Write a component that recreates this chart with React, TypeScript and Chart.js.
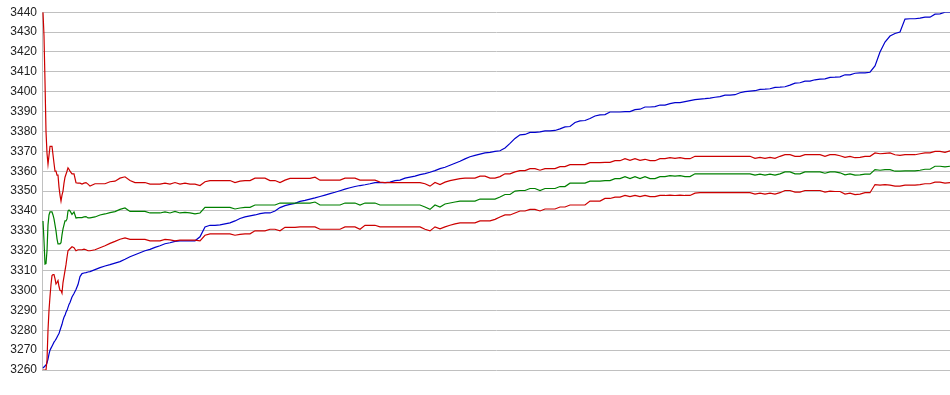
import React, { useEffect, useRef } from "react";
import { Chart, registerables } from "chart.js";

Chart.register(...registerables);

// sample positions (index along the series)
const sampleX = [
  1, 2, 3, 4, 5, 6, 7, 8, 9, 10, 11, 12, 13, 14, 15, 16, 17, 18, 19, 20, 21, 22, 23, 24, 25, 26, 27, 28,
  30, 32, 34, 36, 38, 40, 42, 44, 46, 48,
  53, 58, 63, 68, 73, 78, 83, 88, 93, 98,
  103, 108, 113, 118, 123, 128, 133, 138, 143, 148,
  153, 158, 163, 168, 173, 178, 183, 188, 193, 198,
  203, 208, 213, 218, 223, 228, 233, 238, 243, 248,
  253, 258, 263, 268, 273, 278, 283, 288, 293, 298,
  303, 308, 313, 318, 323, 328, 333, 338, 343, 348,
  353, 358, 363, 368, 373, 378, 383, 388, 393, 398,
  403, 408, 413, 418, 423, 428, 433, 438, 443, 448,
  453, 458, 463, 468, 473, 478, 483, 488, 493, 498,
  503, 508, 513, 518, 523, 528, 533, 538, 543, 548,
  553, 558, 563, 568, 573, 578, 583, 588, 593, 598,
  603, 608, 613, 618, 623, 628, 633, 638, 643, 648,
  653, 658, 663, 668, 673, 678, 683, 688, 693, 698,
  703, 708, 713, 718, 723, 728, 733, 738, 743, 748,
  753, 758, 763, 768, 773, 778, 783, 788, 793, 798,
  803, 808, 813, 818, 823, 828, 833, 838, 843, 848,
  853, 858, 863, 868, 873, 878, 883, 888, 893, 898,
  903, 908,
];

const priceLine = [
  3261, 3261.5, 3262, 3262.5, 3263.5, 3265.5, 3268, 3270, 3271, 3272, 3273, 3274, 3274.7, 3275.5, 3276.5, 3277.5, 3278.3, 3280, 3281.5, 3283, 3285, 3286.5, 3287.5, 3289, 3290, 3291.5, 3293, 3294,
  3296.7, 3298.5, 3300.5, 3303, 3307, 3308.5, 3308.8, 3309, 3309.3, 3309.5,
  3310.5, 3311.5, 3312.3, 3313, 3313.8, 3314.5, 3315.7, 3317, 3318, 3319,
  3320, 3320.7, 3321.7, 3322.5, 3323.5, 3324, 3324.7, 3325, 3325, 3325,
  3325, 3327, 3332, 3332.8, 3332.8, 3333, 3333.5, 3334, 3335, 3336.2,
  3337, 3337.5, 3338, 3338.7, 3339, 3339, 3340, 3341.7, 3342.7, 3343.3,
  3343.8, 3344.8, 3345.3, 3346, 3346.6, 3347.3, 3348, 3348.7, 3349.4, 3350.2,
  3351, 3351.7, 3352.3, 3352.8, 3353.2, 3353.7, 3354.3, 3354.3, 3354.3, 3354.5,
  3355.3, 3355.5, 3356.5, 3357, 3357.5, 3358.3, 3358.8, 3359.5, 3360.3, 3361.3,
  3362, 3363, 3364, 3365, 3366.2, 3367.3, 3368, 3368.6, 3369.2, 3369.5,
  3370, 3370.3, 3371.7, 3374, 3376.5, 3378.3, 3378.5, 3379.5, 3379.5, 3379.8,
  3380.3, 3380.3, 3380.5, 3381.3, 3382.3, 3382.5, 3384.5, 3385.3, 3385.5, 3386.5,
  3387.8, 3388.3, 3388.5, 3389.8, 3389.8, 3389.8, 3390, 3390, 3391, 3391.2,
  3392.3, 3392.3, 3392.5, 3393.3, 3393.3, 3394, 3394.5, 3394.5, 3395, 3395.5,
  3396, 3396.3, 3396.5, 3396.8, 3397.2, 3397.5, 3398.3, 3398.3, 3398.5, 3399.5,
  3400, 3400.3, 3400.5, 3401.2, 3401.3, 3401.5, 3402.2, 3402.3, 3402.5, 3403.3,
  3404.3, 3404.5, 3405.3, 3405.3, 3406, 3406.3, 3406.5, 3407.2, 3407.3, 3407.5,
  3408.5, 3408.5, 3409.3, 3409.5, 3409.5, 3409.8, 3413, 3420, 3425, 3428,
  3429.3, 3430, 3436.5, 3436.7, 3436.7, 3437, 3437.5, 3437.5, 3439, 3439.2,
  3440, 3440,
];

const upperBand = [
  3440, 3428, 3405, 3380, 3369, 3363.5, 3368, 3372.5, 3372.5, 3372.5, 3368.3, 3364, 3360, 3360, 3358, 3358, 3352, 3348, 3345, 3348, 3350, 3354, 3357, 3358.5, 3360, 3361.7, 3361, 3360,
  3358.7, 3358.7, 3354.2, 3354, 3354, 3353.5, 3354, 3354.3, 3353.5, 3352.5,
  3353.7, 3353.7, 3353.7, 3354.7, 3355, 3356.5, 3357.2, 3355.3, 3354.3, 3354.3,
  3354.3, 3353.5, 3353.5, 3353.5, 3354, 3353.5, 3354.3, 3353.5, 3354, 3353.5,
  3353.5, 3352.8, 3354.7, 3355.3, 3355.3, 3355.3, 3355.3, 3355.3, 3354.3, 3355,
  3355.3, 3355.3, 3356.5, 3356.5, 3356.5, 3355.3, 3355.3, 3354.3, 3355.5, 3356.4,
  3356.4, 3356.4, 3356.4, 3356.4, 3357, 3355.5, 3355.5, 3355.5, 3355.5, 3355.5,
  3356.5, 3356.5, 3356.5, 3355.5, 3355.5, 3355.5, 3355.5, 3354.5, 3354.3, 3354.3,
  3354.3, 3354.3, 3354.3, 3354.3, 3354.3, 3354.3, 3353.7, 3352.5, 3354.3, 3353.3,
  3354.5, 3355.3, 3355.8, 3356.3, 3356.5, 3356.5, 3356.5, 3357.5, 3357.5, 3356.5,
  3356.5, 3357.3, 3358.7, 3358.7, 3359.7, 3360.3, 3360.3, 3361.3, 3361.3, 3360.5,
  3361.3, 3361.3, 3361.3, 3362.3, 3362.3, 3363.3, 3363.3, 3363.3, 3363.3, 3364.3,
  3364.3, 3364.3, 3364.5, 3364.5, 3365.3, 3365.3, 3366.3, 3365.5, 3366.3, 3365.5,
  3366, 3365.3, 3365.3, 3366.3, 3366.3, 3366.8, 3366.5, 3366.8, 3366.3, 3366.3,
  3367.5, 3367.5, 3367.5, 3367.5, 3367.5, 3367.5, 3367.5, 3367.5, 3367.5, 3367.5,
  3367.5, 3367.5, 3366.5, 3367, 3366.5, 3367, 3366.5, 3367.5, 3368.3, 3368.3,
  3367.5, 3367.5, 3368.3, 3368.3, 3368.3, 3368.3, 3367.5, 3368.3, 3368.3, 3367.8,
  3367, 3367.5, 3366.8, 3367, 3367.5, 3367.5, 3369.2, 3368.8, 3369, 3369.2,
  3368.3, 3368, 3368.3, 3368.3, 3368.3, 3368.8, 3369.2, 3369.2, 3370, 3370,
  3369.5, 3370.3,
];

const middleBand = [
  3335, 3325, 3313.3, 3313.5, 3320, 3333, 3338, 3339.5, 3339.5, 3339.5, 3338, 3336, 3333, 3330, 3326, 3323.5, 3323.5, 3323.5, 3324, 3328, 3331, 3333, 3335, 3335, 3336, 3340, 3340.5, 3340,
  3338.3, 3339.5, 3336.5, 3336.7, 3336.7, 3336.7, 3337, 3337.2, 3336.5, 3336.5,
  3337, 3338, 3338.5, 3339.2, 3339.7, 3340.8, 3341.5, 3339.8, 3339.8, 3339.8,
  3339.8, 3339, 3339, 3339, 3339.5, 3339, 3339.8, 3339, 3339.3, 3339,
  3338.5, 3339, 3341.8, 3341.8, 3341.8, 3341.8, 3341.8, 3341.8, 3341, 3341.5,
  3341.8, 3341.8, 3343, 3343, 3343, 3343, 3343, 3344, 3344, 3344,
  3344, 3344, 3344, 3344, 3344.5, 3343, 3343, 3343, 3343, 3343,
  3344, 3344, 3344, 3343, 3344, 3344, 3344, 3343, 3343, 3343,
  3343, 3343, 3343, 3343, 3343, 3343, 3342, 3340.8, 3343, 3342,
  3343.5, 3344, 3344.5, 3345, 3345, 3345, 3345, 3346, 3346, 3346,
  3346, 3347, 3348.3, 3348.3, 3350, 3350.3, 3350.3, 3351.3, 3351.3, 3350.3,
  3351.3, 3351.3, 3351.3, 3352.3, 3352.3, 3354, 3354, 3354, 3354, 3355,
  3355, 3355, 3355.3, 3355.3, 3356.3, 3356.3, 3357.3, 3356.3, 3357.3, 3356.3,
  3357.3, 3356.3, 3356.3, 3357.3, 3357.3, 3357.8, 3357.5, 3357.8, 3357.3, 3357.3,
  3358.7, 3358.7, 3358.7, 3358.7, 3358.7, 3358.7, 3358.7, 3358.7, 3358.7, 3358.7,
  3358.7, 3358.7, 3358, 3358.5, 3358, 3358.5, 3358, 3358.7, 3359.7, 3359.7,
  3358.7, 3358.7, 3359.7, 3359.7, 3359.7, 3359.7, 3359, 3359.7, 3359.7, 3359.2,
  3358.2, 3358.7, 3358, 3358.2, 3358.5, 3358.5, 3360.8, 3360.5, 3360.8, 3360.8,
  3360, 3360, 3360.2, 3360.2, 3360.2, 3360.5, 3361, 3361, 3362.5, 3362.5,
  3362.2, 3362.5,
];

const lowerBand = [
  3260, 3260, 3260, 3260, 3265, 3280, 3290, 3297, 3303, 3307.5, 3308, 3308, 3306, 3303.3, 3304, 3305, 3302, 3300, 3300, 3298.7, 3304, 3307, 3310, 3313, 3316.7, 3320, 3320.5, 3321,
  3322, 3321.5, 3320, 3320.5, 3320.5, 3320.5, 3320.8, 3320.5, 3320, 3320,
  3320.5, 3321.5, 3322.5, 3323.7, 3324.7, 3325.8, 3326.5, 3325.7, 3325.7, 3325.7,
  3325.7, 3325, 3325, 3325, 3325.7, 3325.5, 3325, 3325.3, 3325.3, 3325.3,
  3325.3, 3325, 3327.8, 3328.5, 3328.5, 3328.5, 3328.5, 3328.5, 3327.8, 3328.2,
  3328.5, 3328.5, 3330, 3330, 3330, 3330.8, 3330.8, 3330, 3331.8, 3331.8,
  3331.8, 3332, 3332, 3332, 3332, 3330.8, 3330.8, 3330.8, 3330.8, 3330.8,
  3332, 3332, 3332, 3330.8, 3332.8, 3332.8, 3332.8, 3332, 3332, 3332,
  3332, 3332, 3332, 3332, 3332, 3332, 3330.8, 3330, 3332, 3331,
  3332, 3332.8, 3333.5, 3334, 3334, 3334, 3334, 3335, 3335, 3335,
  3335.8, 3337, 3338, 3338, 3339, 3340, 3340, 3340.8, 3340.8, 3340,
  3341, 3341, 3341, 3342, 3342, 3343, 3343, 3343, 3343, 3345,
  3345, 3345, 3346.3, 3346.3, 3347, 3347, 3347.8, 3347.2, 3347.8, 3347.2,
  3347.8, 3347.2, 3347.2, 3347.8, 3347.8, 3348, 3347.8, 3348, 3347.8, 3347.8,
  3349, 3349.2, 3349.2, 3349.2, 3349.2, 3349.2, 3349.2, 3349.2, 3349.2, 3349.2,
  3349.2, 3349.2, 3348.5, 3349, 3348.5, 3349, 3348.5, 3349.2, 3350.3, 3350.3,
  3349.5, 3349.5, 3350.3, 3350.3, 3350.3, 3350.3, 3349.5, 3350, 3349.8, 3349.8,
  3348.5, 3349, 3348.2, 3348.5, 3349.2, 3349.2, 3353.3, 3353, 3353.3, 3353,
  3352.5, 3352.5, 3353, 3353, 3353, 3353.3, 3353.7, 3353.7, 3354.5, 3354.5,
  3354, 3354.3,
];

const yMin = 3260;
const yMax = 3440;
const yStep = 10;

function toPoints(values: number[]) {
  return sampleX.map((x, i) => ({ x, y: values[i] }));
}

export default function App() {
  const canvasRef = useRef<HTMLCanvasElement | null>(null);

  useEffect(() => {
    document.body.style.margin = "0";
    const canvas = canvasRef.current;
    if (!canvas) return;
    const lineBase = {
      borderWidth: 1.2,
      pointRadius: 0,
      pointHoverRadius: 0,
      tension: 0,
      fill: false,
    };
    const chart = new Chart(canvas, {
      type: "line",
      data: {
        datasets: [
          { ...lineBase, label: "Upper", data: toPoints(upperBand), borderColor: "#cc0000" },
          { ...lineBase, label: "Middle", data: toPoints(middleBand), borderColor: "#008000" },
          { ...lineBase, label: "Lower", data: toPoints(lowerBand), borderColor: "#cc0000" },
          { ...lineBase, label: "Price", data: toPoints(priceLine), borderColor: "#0000cc" },
        ],
      },
      options: {
        animation: false,
        responsive: false,
        maintainAspectRatio: false,
        layout: { padding: { top: 10, bottom: 25, left: 0, right: 0 } },
        plugins: {
          legend: { display: false },
          tooltip: { enabled: false },
        },
        scales: {
          x: {
            type: "linear",
            min: 0,
            max: 908,
            display: false,
          },
          y: {
            min: yMin,
            max: yMax,
            afterFit: (scale: any) => {
              scale.width = 42;
            },
            ticks: {
              stepSize: yStep,
              color: "#222",
              padding: 5,
              font: { family: "'Liberation Sans', Arial, sans-serif", size: 12 },
              callback: (value: any) => String(value),
            },
            grid: {
              color: "#c0c0c0",
              lineWidth: 1,
              drawTicks: false,
            },
            border: { display: true, color: "#c0c0c0", width: 1 },
          },
        },
      },
    });
    return () => chart.destroy();
  }, []);

  return (
    <div style={{ width: 950, height: 395, background: "#fff" }}>
      <canvas ref={canvasRef} width={950} height={395} style={{ display: "block" }} />
    </div>
  );
}
